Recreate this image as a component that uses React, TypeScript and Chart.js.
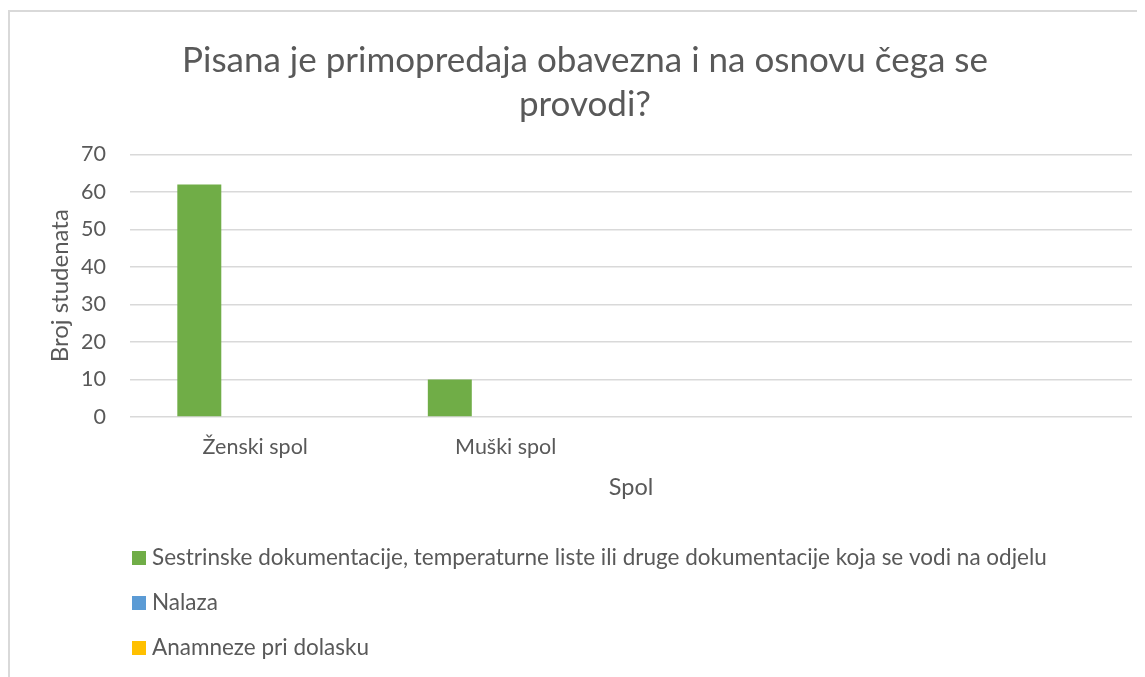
import React, { useEffect, useRef } from "react";
import { Chart, registerables } from "chart.js";

Chart.register(...registerables);

const titleLines = ["Pisana je primopredaja obavezna i na osnovu čega se", "provodi?"];
const categories = ["Ženski spol", "Muški spol", "", ""];
const seriesNames = [
  "Sestrinske dokumentacije, temperaturne liste ili druge dokumentacije koja se vodi na odjelu",
  "Nalaza",
  "Anamneze pri dolasku",
];
const sestrinskeValues = [62, 10, 0, 0];
const nalazaValues = [0, 0, 0, 0];
const anamnezeValues = [0, 0, 0, 0];
const seriesColors = ["#70ad47", "#5b9bd5", "#ffc000"];
const yTicks = [0, 10, 20, 30, 40, 50, 60, 70];

const FONT = "Lato, 'Open Sans', sans-serif";
const TEXT = "#595959";

const legendPlugin = {
  id: "verticalLegend",
  afterDraw(chart: any) {
    const ctx = chart.ctx;
    const xs = chart.scales.x;
    const startY = xs.bottom + 51;
    const left = chart.chartArea.left + 2;
    ctx.save();
    ctx.font = `22.5px ${FONT}`;
    ctx.textBaseline = "middle";
    ctx.textAlign = "left";
    chart.data.datasets.forEach((ds: any, i: number) => {
      const y = startY + i * 45;
      ctx.fillStyle = ds.backgroundColor;
      ctx.fillRect(left, y - 7, 14, 14);
      ctx.fillStyle = TEXT;
      ctx.fillText(ds.label, left + 20, y);
    });
    ctx.restore();
  },
};

export default function App() {
  const ref = useRef<HTMLCanvasElement>(null);
  useEffect(() => {
    if (!ref.current) return;
    const values = [sestrinskeValues, nalazaValues, anamnezeValues];
    const chart = new Chart(ref.current, {
      type: "bar",
      data: {
        labels: categories,
        datasets: seriesNames.map((name, i) => ({
          label: name,
          data: values[i],
          backgroundColor: seriesColors[i],
          borderWidth: 0,
          categoryPercentage: 0.67,
          barPercentage: 0.786,
        })),
      },
      options: {
        animation: false,
        responsive: true,
        maintainAspectRatio: false,
        layout: { padding: { left: 30, right: 13, top: 0, bottom: 170 } },
        plugins: {
          legend: { display: false },
          tooltip: { enabled: false },
          title: {
            display: true,
            text: titleLines,
            color: TEXT,
            font: { family: FONT, size: 35, weight: "normal", lineHeight: 1.27 },
            padding: { top: 30, bottom: 27.5 },
          },
        },
        scales: {
          x: {
            grid: { display: false, drawTicks: false },
            border: { display: false },
            ticks: { color: TEXT, font: { family: FONT, size: 21.5 }, padding: 17.5, maxRotation: 0 },
            title: {
              display: true,
              text: "Spol",
              color: TEXT,
              font: { family: FONT, size: 23.5 },
              padding: { top: 0, bottom: 5 },
            },
            afterFit: (s: any) => {
              s.height = 90;
            },
          },
          y: {
            min: 0,
            max: 70,
            afterBuildTicks: (s: any) => {
              s.ticks = yTicks.map((v) => ({ value: v }));
            },
            grid: { color: "#d9d9d9", lineWidth: 1.5, drawTicks: false },
            border: { display: false },
            ticks: { color: TEXT, font: { family: FONT, size: 21.5 }, padding: 24 },
            title: {
              display: true,
              text: "Broj studenata",
              color: TEXT,
              font: { family: FONT, size: 24 },
              padding: { top: 8, bottom: 0 },
            },
            afterFit: (s: any) => {
              s.width = 92;
            },
          },
        },
      },
      plugins: [legendPlugin],
    });
    return () => chart.destroy();
  }, []);

  return (
    <div style={{ position: "relative", width: 1137, height: 669 }}>
      <div
        style={{
          position: "absolute",
          top: 2,
          left: 0,
          width: 1137,
          height: 667,
          borderTop: "2px solid #d9d9d9",
          borderLeft: "2px solid #d9d9d9",
          boxSizing: "border-box",
        }}
      />
      <div style={{ position: "absolute", inset: 0 }}>
        <canvas ref={ref} />
      </div>
    </div>
  );
}
